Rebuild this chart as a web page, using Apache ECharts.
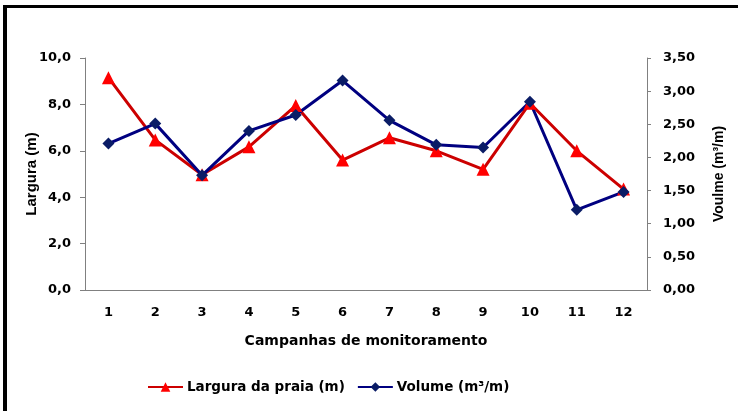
<!DOCTYPE html>
<html><head><meta charset="utf-8">
<script src="https://cdn.jsdelivr.net/npm/echarts@6/dist/echarts.min.js"></script>
<style>
html,body{margin:0;padding:0;background:#fff;}
#frame{position:absolute;left:3px;top:5px;width:735px;height:406px;border-top:3px solid #000;border-left:4px solid #000;box-sizing:border-box;}
#chart{position:absolute;left:0;top:0;width:738px;height:411px;}
</style></head>
<body>
<div id="frame"></div>
<div id="chart"></div>
<script>
const categories = ['1','2','3','4','5','6','7','8','9','10','11','12'];
const largura = [9.15, 6.47, 4.97, 6.17, 7.95, 5.6, 6.56, 6.0, 5.2, 8.05, 6.0, 4.35];
const volume = [2.21, 2.51, 1.73, 2.40, 2.64, 3.16, 2.56, 2.19, 2.15, 2.84, 1.21, 1.48];
const leftTicks = {min: 0, max: 10, interval: 2};
const rightTicks = {min: 0, max: 3.5, interval: 0.5};

const dejavu = '"DejaVu Sans", sans-serif';
const arial = '"Liberation Sans", Arial, sans-serif';
const txt = {fontFamily: dejavu, fontWeight: 'bold', fontSize: 13, color: '#000'};
const chart = echarts.init(document.getElementById('chart'), null, {renderer: 'canvas'});
chart.setOption({
  animation: false,
  backgroundColor: 'transparent',
  grid: {left: 85, right: 91, top: 58, bottom: 121},
  legend: {
    bottom: 12, left: 142, itemWidth: 35, itemHeight: 12, itemGap: 12,
    textStyle: {fontFamily: dejavu, fontWeight: 'bold', fontSize: 13.5, color: '#000', padding: [0, 0, 0, -1]},
    data: ['Largura da praia (m)', 'Volume (m³/m)']
  },
  xAxis: {
    type: 'category', data: categories, boundaryGap: true,
    axisLine: {lineStyle: {color: '#808080', width: 1}},
    axisTick: {show: false},
    axisLabel: Object.assign({margin: 16}, txt),
    name: 'Campanhas de monitoramento', nameLocation: 'middle', nameGap: 44,
    nameTextStyle: Object.assign({}, txt, {fontSize: 14})
  },
  yAxis: [{
    type: 'value', min: leftTicks.min, max: leftTicks.max, interval: leftTicks.interval,
    axisLine: {show: true, lineStyle: {color: '#808080'}},
    axisTick: {show: true, length: 5, lineStyle: {color: '#808080'}},
    splitLine: {show: false},
    axisLabel: Object.assign({margin: 14, formatter: v => v.toFixed(1).replace('.', ',')}, txt),
    name: 'Largura (m)', nameLocation: 'middle', nameGap: 46, nameRotate: 90, nameMoveOverlap: false,
    nameTextStyle: {fontFamily: arial, fontWeight: 'bold', fontSize: 15, color: '#000'}
  }, {
    type: 'value', position: 'right', min: rightTicks.min, max: rightTicks.max, interval: rightTicks.interval,
    axisLine: {show: true, lineStyle: {color: '#808080'}},
    axisTick: {show: true, length: 4, inside: false, lineStyle: {color: '#808080'}},
    splitLine: {show: false},
    axisLabel: Object.assign({margin: 16, formatter: v => v.toFixed(2).replace('.', ',')}, txt),
    name: 'Voulme (m³/m)', nameLocation: 'middle', nameGap: 65, nameRotate: 90, nameMoveOverlap: false,
    nameTextStyle: {fontFamily: arial, fontWeight: 'bold', fontSize: 14, color: '#000'}
  }],
  series: [{
    name: 'Largura da praia (m)', type: 'line', yAxisIndex: 0, data: largura,
    symbol: 'triangle', symbolSize: 13,
    lineStyle: {color: '#CC0000', width: 3},
    itemStyle: {color: '#FF0000'}
  }, {
    name: 'Volume (m³/m)', type: 'line', yAxisIndex: 1, data: volume,
    symbol: 'diamond', symbolSize: 12,
    lineStyle: {color: '#000080', width: 3},
    itemStyle: {color: '#0A1C66'}
  }]
});
</script>
</body></html>
